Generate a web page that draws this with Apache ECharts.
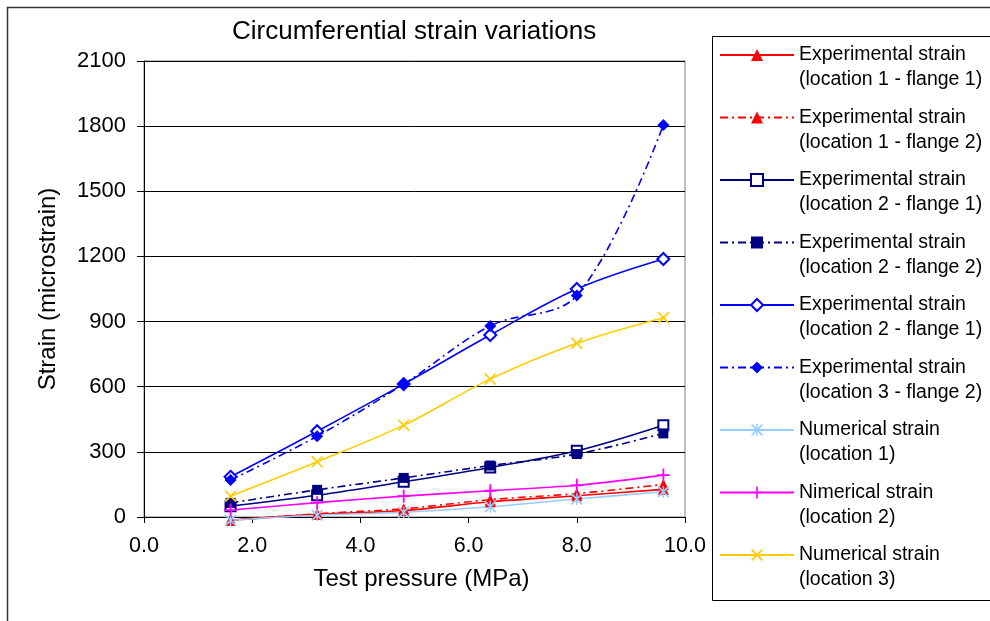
<!DOCTYPE html>
<html>
<head>
    <meta charset="utf-8">
    <script src="https://cdn.jsdelivr.net/npm/echarts@6/dist/echarts.min.js"></script>
    <style>
        html, body { margin: 0; padding: 0; background: #fff; }
        #main { width: 990px; height: 621px; }
    </style>
</head>
<body>
<div id="main"></div>
<script>
    // test pressure (MPa)
    const pressure = [1.6, 3.2, 4.8, 6.4, 8.0, 9.6];

    // strain readings (microstrain)
    const expLoc1Fl1 = [-15, 12, 30, 70, 98, 127];
    const expLoc1Fl2 = [-15, 15, 38, 80, 108, 150];
    const expLoc2Fl1 = [50, 100, 162, 228, 305, 423];
    const expLoc2Fl2 = [65, 125, 180, 237, 290, 385];
    const expLoc3Fl1 = [185, 395, 612, 838, 1050, 1188];
    const expLoc3Fl2 = [170, 372, 612, 880, 1020, 1805];
    const numLoc1 = [-15, 8, 22, 47, 83, 116];
    const numLoc2 = [32, 66, 96, 121, 146, 193];
    const numLoc3 = [96, 254, 423, 635, 800, 918];

    const yTicks = [0, 300, 600, 900, 1200, 1500, 1800, 2100];

    const FONT = 'Liberation Sans, Arial, sans-serif';
    const DASHDOT = [8, 4, 2, 4];

    // thin filled shapes for the Excel style markers
    const PLUS = 'path://M4.3,0H5.7V4.3H10V5.7H5.7V10H4.3V5.7H0V4.3H4.3Z';
    const CROSS = 'path://M0,1L1,0L10,9L9,10Z M9,0L10,1L1,10L0,9Z';
    const STAR = 'path://M0,1L1,0L10,9L9,10Z M9,0L10,1L1,10L0,9Z M4.4,0H5.6V10H4.4Z';

    function pairs(values) {
        return values.map(function (v, i) { return [pressure[i], v]; });
    }

    const seriesDefs = [
        { name: 'Experimental strain\n(location 1 - flange 1)', data: expLoc1Fl1, color: '#ff0000', dash: 'solid', symbol: 'triangle', size: 11 },
        { name: 'Experimental strain\n(location 1 - flange 2)', data: expLoc1Fl2, color: '#ff0000', dash: DASHDOT, symbol: 'triangle', size: 11 },
        { name: 'Experimental strain\n(location 2 - flange 1)', data: expLoc2Fl1, color: '#000080', dash: 'solid', symbol: 'emptyRect', size: 10 },
        { name: 'Experimental strain\n(location 2 - flange 2)', data: expLoc2Fl2, color: '#000080', dash: DASHDOT, symbol: 'rect', size: 10 },
        // same label as the third entry in the original, trailing space keeps it apart
        { name: 'Experimental strain\n(location 2 - flange 1) ', data: expLoc3Fl1, color: '#0000ff', dash: 'solid', symbol: 'emptyDiamond', size: 12 },
        { name: 'Experimental strain\n(location 3 - flange 2)', data: expLoc3Fl2, color: '#0000ff', dash: DASHDOT, symbol: 'diamond', size: 12 },
        { name: 'Numerical strain\n(location 1)', data: numLoc1, color: '#99ccff', dash: 'solid', symbol: STAR, size: 12 },
        { name: 'Nimerical strain\n(location 2)', data: numLoc2, color: '#ff00ff', dash: 'solid', symbol: PLUS, size: 13 },
        { name: 'Numerical strain\n(location 3)', data: numLoc3, color: '#ffcc00', dash: 'solid', symbol: CROSS, size: 12 }
    ];

    const chart = echarts.init(document.getElementById('main'));

    chart.setOption({
        animation: false,
        backgroundColor: '#fff',
        title: {
            text: 'Circumferential strain variations',
            left: 232,
            top: 19,
            padding: 0,
            textStyle: { fontFamily: FONT, fontSize: 26, fontWeight: 'normal', color: '#000' }
        },
        graphic: [
            {
                type: 'rect',
                shape: { x: 7.5, y: 7.5, width: 1000, height: 700 },
                style: { fill: null, stroke: '#333', lineWidth: 1.5 },
                silent: true, z: -10
            },
            {
                type: 'rect',
                shape: { x: 712.5, y: 36.5, width: 300, height: 564 },
                style: { fill: null, stroke: '#000', lineWidth: 1 },
                silent: true
            }
        ],
        legend: {
            orient: 'vertical',
            left: 719,
            top: 17.5,
            padding: 0,
            itemGap: -12.5,
            itemWidth: 74,
            itemHeight: 15,
            data: seriesDefs.map(function (s) { return s.name; }),
            formatter: function (name) { return '\n' + name; },
            textStyle: { fontFamily: FONT, fontSize: 19.5, lineHeight: 25, color: '#000' }
        },
        grid: {
            left: 144,
            right: 305,
            top: 61,
            bottom: 104,
            show: true,
            borderColor: '#808080',
            borderWidth: 1
        },
        xAxis: {
            type: 'value',
            min: 0,
            max: 10,
            interval: 2,
            name: 'Test pressure (MPa)',
            nameLocation: 'middle',
            nameGap: 50,
            nameTextStyle: { fontFamily: FONT, fontSize: 24, color: '#000', padding: [0, 0, 0, 14] },
            axisLine: { onZero: false, lineStyle: { color: '#000', width: 1 } },
            axisTick: { length: 6, lineStyle: { color: '#000' } },
            axisLabel: {
                fontFamily: FONT, fontSize: 21.5, color: '#000', margin: 18,
                formatter: function (v) { return v.toFixed(1); }
            },
            splitLine: { show: false }
        },
        yAxis: {
            type: 'value',
            min: yTicks[0],
            max: yTicks[yTicks.length - 1],
            interval: 300,
            name: 'Strain (microstrain)',
            nameLocation: 'middle',
            nameGap: 84,
            nameTextStyle: { fontFamily: FONT, fontSize: 24, color: '#000' },
            axisLine: { show: true, lineStyle: { color: '#000', width: 1 } },
            axisTick: { show: true, length: 7, lineStyle: { color: '#000' } },
            axisLabel: {
                fontFamily: FONT, fontSize: 22, color: '#000', margin: 18,
                formatter: function (v) { return String(v); }
            },
            splitLine: { show: true, lineStyle: { color: '#000', width: 1 } }
        },
        series: seriesDefs.map(function (s) {
            const hollow = s.symbol.indexOf('empty') === 0;
            return {
                name: s.name,
                type: 'line',
                data: pairs(s.data),
                smooth: 0.35,
                clip: false,
                symbol: s.symbol,
                symbolSize: s.size,
                showSymbol: true,
                lineStyle: { color: s.color, width: 1.6, type: s.dash },
                itemStyle: {
                    color: s.color,
                    borderColor: s.color,
                    borderWidth: hollow ? 1.5 : 0
                },
                emphasis: { disabled: true }
            };
        })
    });
</script>
</body>
</html>
